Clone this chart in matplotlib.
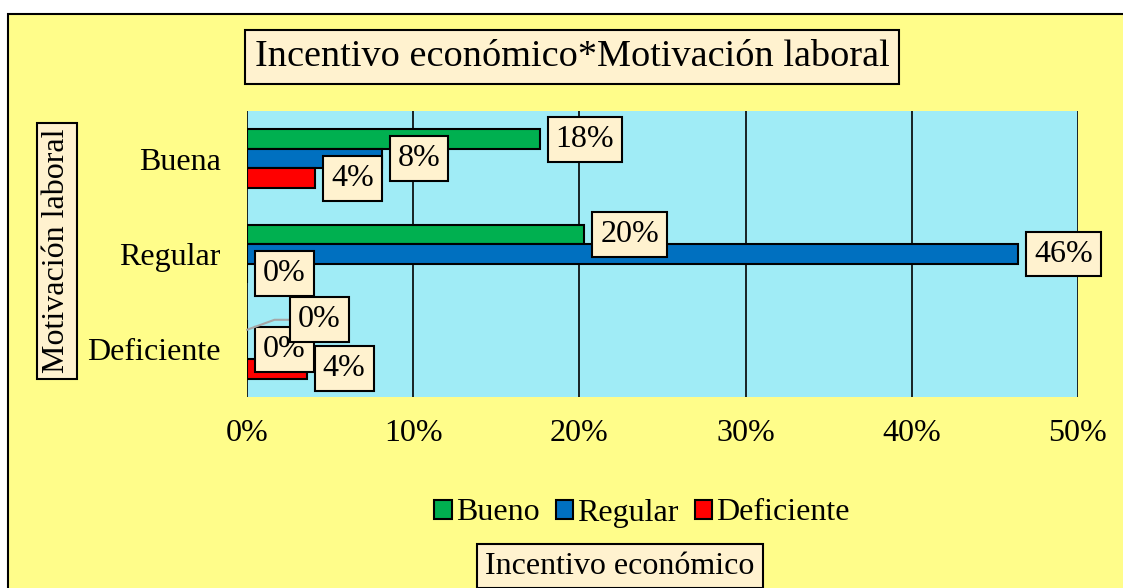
import matplotlib
matplotlib.use("Agg")
import matplotlib.pyplot as plt
from matplotlib.patches import Rectangle
import numpy as np

categories = ["Deficiente", "Regular", "Buena"]
series_names = ["Bueno", "Regular", "Deficiente"]
bueno = [0.0, 20.3, 17.6]
regular = [0.0, 46.4, 8.1]
deficiente = [3.6, 0.0, 4.1]
label_text_bueno = ["0%", "20%", "18%"]
label_text_regular = ["0%", "46%", "8%"]
label_text_deficiente = ["4%", "0%", "4%"]
xticks = [0, 10, 20, 30, 40, 50]
xtick_labels = ["0%", "10%", "20%", "30%", "40%", "50%"]

colors = ["#00B050", "#0070C0", "#FF0000"]
bg_yellow = "#FFFD8A"
plot_cyan = "#A0ECF6"
box_cream = "#FFF2CF"
FONT = "Liberation Serif"
FS = 23

plt.rcParams['font.family'] = [FONT, 'DejaVu Sans']

W, H = 1123, 588
fig = plt.figure(figsize=(W / 100, H / 100), dpi=100)
fig.patch.set_facecolor("white")
fig.patches.append(Rectangle((8 / W, -0.05), 1.1, 1 - 14 / H + 0.05, transform=fig.transFigure,
                             facecolor=bg_yellow, edgecolor="black", linewidth=1.5, zorder=-10))

ax = fig.add_axes([247 / W, 1 - 397 / H, 831 / W, 286 / H])
ax.set_zorder(1)
ax.set_facecolor(plot_cyan)
for s in ax.spines.values():
    s.set_visible(False)

y = np.arange(len(categories))
h = 0.205
all_series = [bueno, regular, deficiente]
all_labels = [label_text_bueno, label_text_regular, label_text_deficiente]
offsets = [h, 0, -h]
for vals, labs, off, col, name in zip(all_series, all_labels, offsets, colors, series_names):
    ax.barh(y + off, vals, height=h, color=col, edgecolor="black", linewidth=1.5, label=name, zorder=3)
    for i, (v, t) in enumerate(zip(vals, labs)):
        bbox = dict(boxstyle="square,pad=0.25", facecolor=box_cream, edgecolor="black", linewidth=1.5)
        if name == "Bueno" and categories[i] == "Deficiente":
            ax.annotate(t, xy=(v, y[i] + off), xytext=(51, 10), textcoords="offset pixels",
                        ha="left", va="center", fontsize=FS, bbox=bbox, zorder=6, annotation_clip=False,
                        arrowprops=dict(arrowstyle="-", color="#A6A6A6", lw=1.5,
                                        shrinkA=0, shrinkB=0,
                                        connectionstyle="angle,angleA=0,angleB=20,rad=0"))
        else:
            ax.annotate(t, xy=(v, y[i] + off), xytext=(16, 0), textcoords="offset pixels",
                        ha="left", va="center", fontsize=FS, bbox=bbox, zorder=5, annotation_clip=False)

ax.set_xlim(0, 50)
ax.set_ylim(-0.5, 2.5)
ax.set_xticks(xticks)
ax.set_xticklabels(xtick_labels, fontsize=FS)
ax.set_yticks(y)
ax.set_yticklabels(categories, fontsize=FS)
ax.tick_params(axis="both", length=0)
ax.tick_params(axis="x", pad=16)
ax.tick_params(axis="y", pad=19)
ax.xaxis.grid(True, color="black", linewidth=1.2, zorder=1)
ax.set_axisbelow(True)

boxstyle = dict(boxstyle="square,pad=0.25", facecolor=box_cream, edgecolor="black", linewidth=1.5)
fig.text(572 / W, 1 - 57 / H, "Incentivo económico*Motivación laboral", ha="center", va="center",
         fontsize=27.5, bbox=boxstyle)
fig.text(57 / W, 1 - 251 / H, "Motivación laboral", ha="center", va="center", rotation=90,
         fontsize=FS, bbox=dict(boxstyle="square,pad=0.18", facecolor=box_cream,
                                edgecolor="black", linewidth=1.5))
fig.text(620 / W, 1 - 566 / H, "Incentivo económico", ha="center", va="center",
         fontsize=FS, bbox=boxstyle)

handles, labels = ax.get_legend_handles_labels()
fig.legend(handles, labels, loc="center", bbox_to_anchor=(642 / W, 1 - 513 / H), ncol=3,
           frameon=False, fontsize=FS, handlelength=0.55, handleheight=0.55,
           handletextpad=0.13, columnspacing=0.5)

fig.savefig("out.png", dpi=100, facecolor=fig.get_facecolor())
